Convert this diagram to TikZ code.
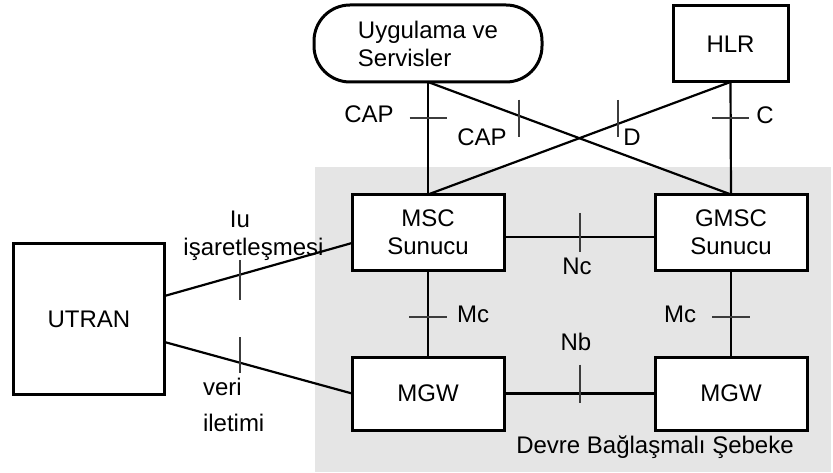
\documentclass[tikz,border=0pt]{standalone}
\usepackage{fontspec}
\setmainfont{Liberation Sans}
\usetikzlibrary{calc}
\definecolor{netgray}{RGB}{229,229,229}
\definecolor{tickgray}{RGB}{60,60,60}
\begin{document}
\begin{tikzpicture}[x=1pt,y=-1pt,
  every node/.style={font=\fontsize{24}{28}\selectfont, inner sep=0pt, outer sep=0pt},
  box/.style={draw=black, line width=3pt, fill=white, align=center},
  link/.style={line width=2.2pt, draw=black},
  tick/.style={line width=2pt, draw=tickgray},
  lbl/.style={anchor=base}]
\useasboundingbox (0,0) rectangle (833,473);
% circuit-switched core network area
\fill[netgray] (315,167) rectangle (831,472);

% network elements
\node[box, align=left, rounded corners=36pt, minimum width=228pt, minimum height=77pt] (app) at (428,43.5) {Uygulama ve\\Servisler};
\node[box, minimum width=115pt, minimum height=76pt] (hlr) at (730.5,44) {HLR};
\node[box, minimum width=152pt, minimum height=76pt] (msc) at (428,232.5) {MSC\\Sunucu};
\node[box, minimum width=152pt, minimum height=76pt] (gmsc) at (731,232.5) {GMSC\\Sunucu};
\node[box, minimum width=152pt, minimum height=73pt] (mgwA) at (428,393.5) {MGW};
\node[box, minimum width=152pt, minimum height=73pt] (mgwB) at (731,393.5) {MGW};
\node[box, minimum width=151pt, minimum height=151pt] (utran) at (89,319) {UTRAN};

% interfaces
\draw[link] (app.south) -- coordinate[pos=0.32] (tCapA) (msc.north);
\draw[link] (app.south) -- coordinate[pos=0.30] (tCapB) (gmsc.north);
\draw[link] (hlr.south) -- coordinate[pos=0.372] (tD) (msc.north);
\draw[link] (hlr.south) -- coordinate[pos=0.32] (tC) (gmsc.north);
\draw[link] ([yshift=-4.5pt]msc.east) -- coordinate[pos=0.503] (tNc) ([yshift=-4.5pt]gmsc.west);
\draw[link] (msc.south) -- coordinate[pos=0.54] (tMcA) (mgwA.north);
\draw[link] (gmsc.south) -- coordinate[pos=0.54] (tMcB) (mgwB.north);
\draw[link] (mgwA.east) -- coordinate[pos=0.503] (tNb) (mgwB.west);
\draw[link] ([yshift=23pt]utran.east) -- coordinate[pos=0.40] (tIu) ([yshift=-10.5pt]msc.west);
\draw[link] ([yshift=-23pt]utran.east) -- coordinate[pos=0.40] (tVeri) (mgwA.west);

% interface tick marks
\draw[tick] ([xshift=-18.5pt]tCapA) -- ([xshift=18.5pt]tCapA);
\draw[tick] ([yshift=16pt]tCapB) -- ([yshift=-21pt]tCapB);
\draw[tick] ([yshift=24pt]tD) -- ([yshift=-13pt]tD);
\draw[tick] ([xshift=-18.5pt]tC) -- ([xshift=18.5pt]tC);
\draw[tick] ([yshift=24pt]tNc) -- ([yshift=-15pt]tNc);
\draw[tick] ([xshift=-19pt]tMcA) -- ([xshift=19pt]tMcA);
\draw[tick] ([xshift=-19pt]tMcB) -- ([xshift=19pt]tMcB);
\draw[tick] ([yshift=29pt]tNb) -- ([yshift=-9pt]tNb);
\draw[tick] ([yshift=15pt]tIu) -- ([yshift=-25pt]tIu);
\draw[tick] ([yshift=25.5pt]tVeri) -- ([yshift=-10.5pt]tVeri);

% interface labels
\node[lbl] (capL1) at (369,123) {CAP};
\node[lbl] (capL2) at (482,146) {CAP};
\node[lbl] (dL) at (632,146) {D};
\node[lbl] (cL) at (765,124) {C};
\node[lbl] (ncL) at (577,275) {Nc};
\node[lbl] (mcL1) at (473,322) {Mc};
\node[lbl] (mcL2) at (680,322) {Mc};
\node[lbl] (nbL) at (576,350) {Nb};
\node[lbl] (iuL1) at (240,228) {Iu};
\node[lbl] (iuL2) at (253.5,255) {işaretleşmesi};
\node[anchor=base west] (veriL1) at (203,395) {veri};
\node[anchor=base west] (veriL2) at (203,431) {iletimi};
\node[lbl] (netL) at (655,453) {Devre Bağlaşmalı Şebeke};
\end{tikzpicture}
\end{document}
